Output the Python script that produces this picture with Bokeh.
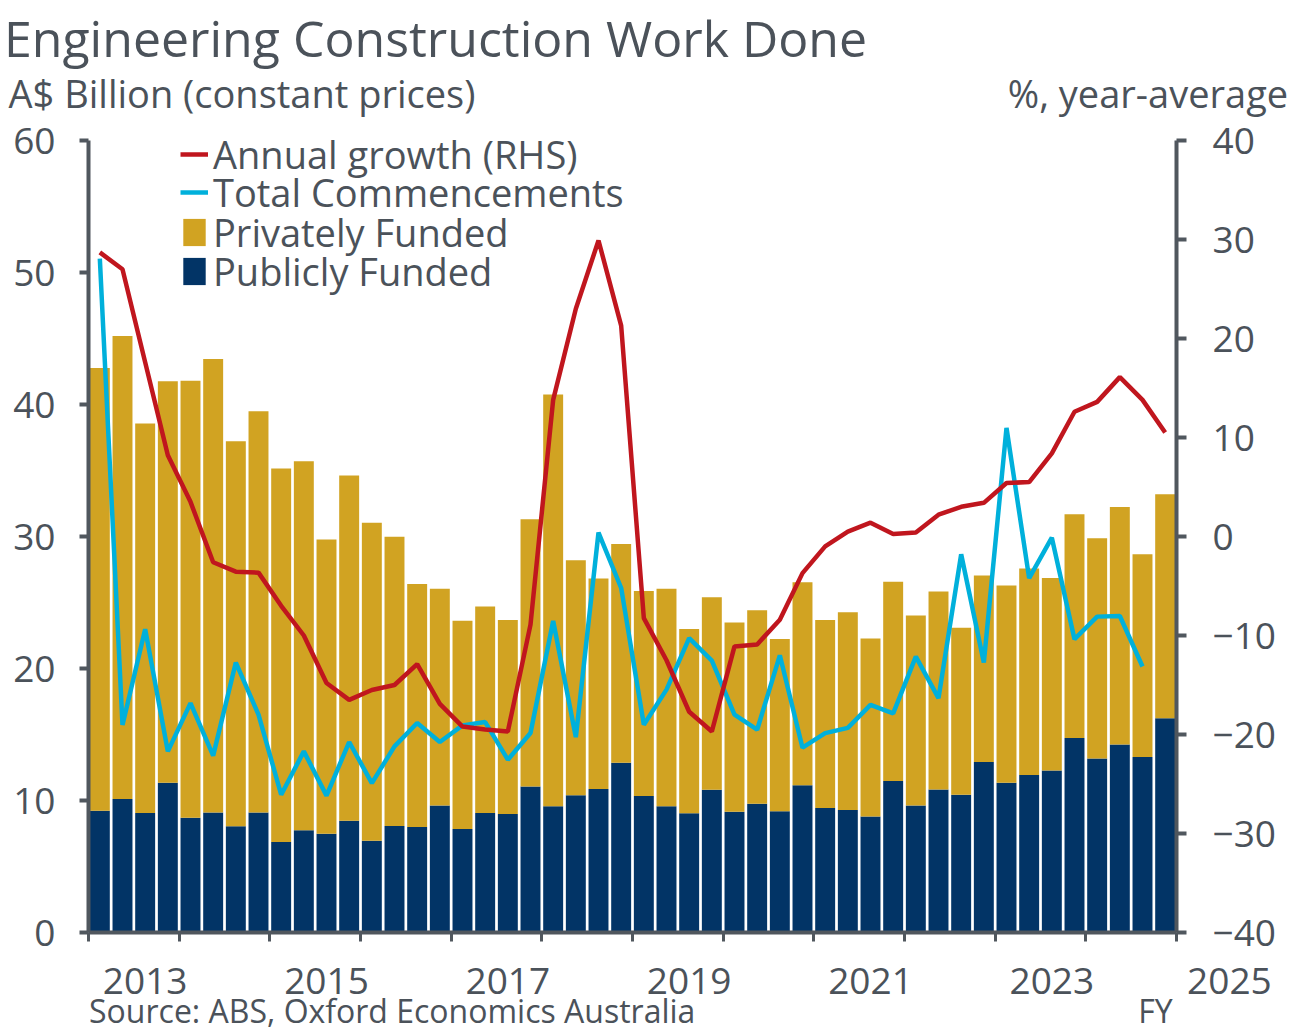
from bokeh.plotting import figure
from bokeh.models import (Range1d, LinearAxis, FixedTicker, Legend, LegendItem,
                          ColumnDataSource)
from bokeh.embed import file_html
from bokeh.resources import INLINE

# ---------------- data ----------------
quarters = [f"FY{2013 + i // 4} Q{i % 4 + 1}" for i in range(48)]

publicly_funded = [9.23, 10.11, 9.06, 11.35, 8.70, 9.10, 8.04, 9.10, 6.86, 7.74, 7.49, 8.47,
                   6.96, 8.07, 8.00, 9.63, 7.85, 9.06, 8.98, 11.07, 9.56, 10.39, 10.87, 12.86,
                   10.34, 9.56, 9.03, 10.82, 9.15, 9.76, 9.18, 11.15, 9.43, 9.28, 8.78, 11.48,
                   9.63, 10.84, 10.44, 12.91, 11.35, 11.93, 12.28, 14.73, 13.19, 14.25, 13.29, 16.24]

privately_funded = [33.54, 35.08, 29.50, 30.41, 33.09, 34.35, 29.18, 30.39, 28.30, 27.97, 22.29, 26.16,
                    24.09, 21.92, 18.41, 16.42, 15.76, 15.63, 14.70, 20.23, 31.20, 17.81, 15.94, 16.57,
                    15.54, 16.49, 13.97, 14.58, 14.33, 14.65, 13.06, 15.38, 14.25, 14.98, 13.49, 15.10,
                    14.38, 14.99, 12.64, 14.13, 14.93, 15.64, 14.58, 16.95, 16.67, 17.98, 15.36, 16.97]

total_commencements = [51.05, 15.72, 22.98, 13.72, 17.38, 13.40, 20.45, 16.50, 10.44, 13.72, 10.37, 14.43,
                       11.32, 14.10, 15.87, 14.43, 15.69, 15.94, 13.09, 15.11, 23.60, 14.80, 30.30, 26.10,
                       15.74, 18.40, 22.30, 20.60, 16.50, 15.36, 21.00, 14.00, 15.10, 15.50, 17.25, 16.60,
                       20.90, 17.76, 28.65, 20.45, 38.23, 26.84, 29.91, 22.22, 23.93, 23.98, 20.15]

annual_growth = [28.7, 27.0, 17.6, 8.2, 3.5, -2.6, -3.55, -3.65, -7.0, -10.0, -14.8, -16.5,
                 -15.5, -15.0, -12.9, -16.9, -19.2, -19.5, -19.7, -8.9, 13.8, 23.0, 29.9, 21.3,
                 -8.25, -12.5, -17.7, -19.7, -11.1, -10.9, -8.4, -3.7, -1.0, 0.5, 1.4, 0.25,
                 0.4, 2.2, 3.0, 3.4, 5.4, 5.5, 8.4, 12.6, 13.6, 16.1, 13.8, 10.5]

fy_labels = ["2013", "2015", "2017", "2019", "2021", "2023"]
fy_last_label = "2025"
left_ticks = [0, 10, 20, 30, 40, 50, 60]
right_ticks = [-40, -30, -20, -10, 0, 10, 20, 30, 40]
series_names = ["Annual growth (RHS)", "Total Commencements", "Privately Funded", "Publicly Funded"]

title_text = "Engineering Construction Work Done"
lhs_unit = "A$ Billion (constant prices)"
rhs_unit = "%, year-average"
source_text = "Source: ABS, Oxford Economics Australia"

# ---------------- style ----------------
FONT = "Open Sans"
TXT = "#4b525a"
AX = "#50575e"
GOLD = "#d1a322"
NAVY = "#023466"
RED = "#c0161e"
CYAN = "#00b0db"

n = len(quarters)
x = list(range(n))
src = ColumnDataSource(dict(x=x, quarter=quarters, pub=publicly_funded, priv=privately_funded))

FRAME_TOP = 140
FRAME_H = 793
p = figure(width=1290, height=1034,
           min_border_left=88, min_border_right=114, min_border_top=FRAME_TOP, min_border_bottom=101,
           x_range=Range1d(-0.5, n - 0.5), y_range=Range1d(0, 60), title=None,
           output_backend="svg", toolbar_location=None)
p.extra_y_ranges = {"rhs": Range1d(-40, 40)}
p.outline_line_color = None
p.xgrid.visible = False
p.ygrid.visible = False

bars = p.vbar_stack(["pub", "priv"], x="x", width=0.88, source=src,
                    color=[NAVY, GOLD], line_color=None)

cx = x[:len(total_commencements)]
r_comm = p.line(cx, total_commencements, line_color=CYAN, line_width=4.5)
r_growth = p.line(x, annual_growth, line_color=RED, line_width=4.5, y_range_name="rhs")


def style_axis(ax, size="37px"):
    ax.axis_line_color = AX
    ax.axis_line_width = 4
    ax.major_tick_line_color = AX
    ax.major_tick_line_width = 4
    ax.major_tick_in = 0
    ax.minor_tick_line_color = None
    ax.major_label_text_font = FONT
    ax.major_label_text_font_size = size
    ax.major_label_text_color = TXT


def text_row(ticks, texts, size, standoff):
    ax = LinearAxis(ticker=FixedTicker(ticks=ticks),
                    major_label_overrides=dict(zip(ticks, texts)))
    style_axis(ax, size)
    ax.axis_line_color = None
    ax.major_tick_line_color = None
    ax.major_tick_out = 0
    ax.major_label_standoff = standoff
    return ax


# left axis
ya = p.yaxis[0]
ya.ticker = FixedTicker(ticks=left_ticks)
style_axis(ya)
ya.major_tick_out = 9
ya.major_label_standoff = 24

# right axis
ra = LinearAxis(y_range_name="rhs", ticker=FixedTicker(ticks=right_ticks))
style_axis(ra)
ra.major_tick_out = 10
ra.major_label_standoff = 26
p.add_layout(ra, "right")

# bottom axis: minor ticks mark fiscal-year boundaries, labels sit mid-way (Excel style)
xa = p.xaxis[0]
yr_bounds = [-0.5 + 4 * k for k in range(n // 4 + 1)]
lab_pos = [2 + 8 * k for k in range(len(fy_labels))] + [n - 0.5]
overrides = {pos: lab for pos, lab in zip(lab_pos, fy_labels)}
overrides[n - 0.5] = "\u2007" * 5 + fy_last_label
xa.ticker = FixedTicker(ticks=lab_pos, minor_ticks=yr_bounds)
xa.major_label_overrides = overrides
style_axis(xa)
xa.major_tick_line_color = None
xa.major_tick_out = 0
xa.minor_tick_line_color = AX
xa.minor_tick_line_width = 3
xa.minor_tick_out = 9
xa.minor_tick_in = 0
xa.major_label_standoff = 12

# second bottom row: source note and "FY"
p.add_layout(text_row([12.9, 46.57], [source_text, "FY"], "32px", -19), "below")

# top rows: units of each y axis, then the title
p.add_layout(text_row([6.27, 46.24], [lhs_unit, rhs_unit], "38px", 22), "above")
p.add_layout(text_row([14.81], [title_text], "50px", -8), "above")

# legend: one entry per block, stacked like the original
renderers = [r_growth, r_comm, bars[1], bars[0]]
row_centers = [155, 193, 233, 272]          # screen rows of legend entries
ROW_H = 1.362 * 38
for name, rend, cy in zip(series_names, renderers, row_centers):
    lg = Legend(items=[LegendItem(label=name, renderers=[rend])],
                location=(92, FRAME_H - (cy - FRAME_TOP) - ROW_H / 2))
    lg.margin = 0
    lg.padding = 0
    lg.glyph_width = 28
    lg.glyph_height = 34
    lg.label_standoff = 5
    lg.label_text_font = FONT
    lg.label_text_font_size = "38px"
    lg.label_text_color = TXT
    lg.background_fill_alpha = 0
    lg.border_line_color = None
    p.add_layout(lg, "center")

open("out.html", "w").write(file_html(p, INLINE))
